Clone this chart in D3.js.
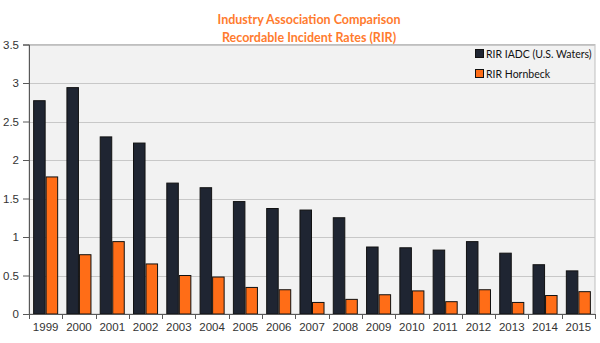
<!DOCTYPE html>
<html><head><meta charset="utf-8">
<script src="https://cdn.jsdelivr.net/npm/d3@7"></script>
<style>body{margin:0;background:#fff}svg{display:block}</style>
</head><body>
<svg id="c" width="600" height="343"></svg>
<script>
const years = ["1999","2000","2001","2002","2003","2004","2005","2006","2007","2008","2009","2010","2011","2012","2013","2014","2015"];
const iadc = [2.77,2.94,2.30,2.22,1.70,1.64,1.46,1.37,1.35,1.25,0.87,0.86,0.83,0.94,0.79,0.64,0.56];
const hornbeck = [1.78,0.77,0.94,0.65,0.50,0.48,0.345,0.315,0.15,0.19,0.25,0.30,0.16,0.315,0.15,0.24,0.29];
const seriesNames = ["RIR IADC (U.S. Waters)","RIR Hornbeck"];
const yTicks = [0,0.5,1,1.5,2,2.5,3,3.5];
const titleLines = ["Industry Association Comparison","Recordable Incident Rates (RIR)"];

const colors = ["#1f2532","#ff6d17"];
const svg = d3.select("#c");
const m = {l:29, r:5, t:44.5, b:29};
const W = 600, H = 343;
const x = d3.scaleBand().domain(years).range([m.l, W-m.r]).paddingInner(0).paddingOuter(0);
const y = d3.scaleLinear().domain([0,3.5]).range([H-m.b, m.t]);
const x1 = d3.scaleBand().domain([0,1]).range([0, x.bandwidth()]).paddingOuter(0.33).paddingInner(0);

svg.append("rect").attr("x",m.l).attr("y",m.t).attr("width",W-m.r-m.l).attr("height",H-m.b-m.t)
  .attr("fill","#f2f2f2").attr("stroke","#bfbfbf");

svg.append("g").selectAll("line").data(yTicks.slice(1)).join("line")
  .attr("x1",m.l).attr("x2",W-m.r).attr("y1",d=>Math.round(y(d))+0.5).attr("y2",d=>Math.round(y(d))+0.5)
  .attr("stroke","#c8c8c8").attr("stroke-width",1);

const data = [iadc, hornbeck];
data.forEach((vals,si)=>{
  svg.append("g").selectAll("rect").data(vals).join("rect")
    .attr("x",(d,i)=>x(years[i])+x1(si)+0.5)
    .attr("y",d=>y(d))
    .attr("width",x1.bandwidth()-1)
    .attr("height",d=>y(0)-y(d))
    .attr("fill",colors[si]).attr("stroke","#111").attr("stroke-width",1);
});

const ya = svg.append("g").attr("transform",`translate(${m.l},0)`)
  .call(d3.axisLeft(y).tickValues(yTicks).tickSize(6).tickPadding(4).tickFormat(d3.format("")));
ya.select(".domain").attr("stroke","#595959");
ya.selectAll(".tick line").attr("stroke","#595959");
ya.selectAll("text").attr("font-family","Liberation Sans, Arial, sans-serif").attr("font-size","11.5px").attr("fill","#333");

const xa = svg.append("g").attr("transform",`translate(0,${H-m.b})`)
  .call(d3.axisBottom(x).tickSize(0).tickPadding(9));
xa.select(".domain").attr("stroke","#595959");
xa.selectAll("text").attr("font-family","Liberation Sans, Arial, sans-serif").attr("font-size","11.5px").attr("fill","#333");
svg.append("g").selectAll("line").data(years.concat(["end"])).join("line")
  .attr("x1",(d,i)=>Math.round(m.l + i*x.bandwidth())+0.5).attr("x2",(d,i)=>Math.round(m.l + i*x.bandwidth())+0.5)
  .attr("y1",H-m.b).attr("y2",H-m.b+5).attr("stroke","#595959");

svg.append("g").selectAll("text").data(titleLines).join("text")
  .attr("x",309).attr("y",(d,i)=>24+i*18).attr("text-anchor","middle")
  .attr("font-family","Lato, sans-serif").attr("font-weight","bold").attr("font-size","12.5px")
  .attr("fill","#ff7b2e").text(d=>d);

const lg = svg.append("g");
seriesNames.forEach((n,i)=>{
  const yy = 54 + i*20;
  lg.append("rect").attr("x",475.5).attr("y",yy-4.5).attr("width",8).attr("height",8)
    .attr("fill",colors[i]).attr("stroke","#111");
  lg.append("text").attr("x",486).attr("y",yy+4).attr("font-family","Lato, sans-serif")
    .attr("font-size","10.5px").attr("fill","#111").text(n);
});
</script>
</body></html>
